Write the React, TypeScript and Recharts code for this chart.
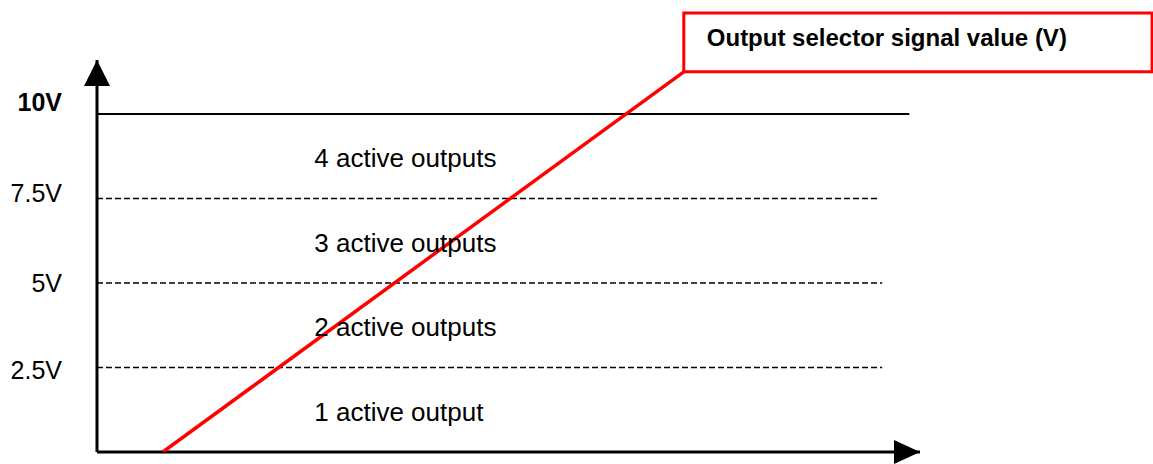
import React from 'react';
import {
  ComposedChart,
  Line,
  XAxis,
  YAxis,
  ReferenceLine,
  ReferenceArea,
  ReferenceDot,
} from 'recharts';

// ---- data ----
const yTicks = [2.5, 5, 7.5, 10];
const yTickLabels = ['2.5V', '5V', '7.5V', '10V'];

const solidLevel = 10;
const solidLevelEnd = 98.7;
const dashedLevels = [7.5, 5, 2.5];
const dashedLevelEnds = [94.8, 95.4, 95.4];

const regionLabels = ['1 active output', '2 active outputs', '3 active outputs', '4 active outputs'];
const regionMids = [1.25, 3.75, 6.25, 8.75];
const regionLabelX = 26.4;

const signalX = [8, 71.3];
const signalY = [0, 11.25];

const calloutText = 'Output selector signal value (V)';
const calloutX = [71.3, 128.2];
const calloutY = [11.25, 12.99];

const xDomain = [0, 100];
const yDomain = [0, 11.6];

// ---- styles ----
const FONT = '"Liberation Sans", Arial, Helvetica, sans-serif';
const tickShift: Record<string, number> = { '2.5': 11, '5': 8.5, '7.5': 3, '10': -3 };

const YTick = (props: any) => {
  const { x, y, payload } = props;
  const v = payload.value;
  const idx = yTicks.indexOf(v);
  const isTop = v === 10;
  return (
    <text
      x={x}
      y={y + (tickShift[String(v)] ?? 0)}
      textAnchor="end"
      fontFamily={FONT}
      fontSize={25}
      fontWeight={isTop ? 'bold' : 'normal'}
      fill="#000"
    >
      {yTickLabels[idx]}
    </text>
  );
};

const UpArrow = (props: any) => {
  const { cx, cy } = props;
  return <path d={`M${cx},${cy} L${cx - 13},${cy + 26} L${cx + 13},${cy + 26} Z`} fill="#000" />;
};

const RightArrow = (props: any) => {
  const { cx, cy } = props;
  return <path d={`M${cx},${cy} L${cx - 26},${cy - 12} L${cx - 26},${cy + 12} Z`} fill="#000" />;
};

const CalloutLabel = (props: any) => {
  const vb = props.viewBox || {};
  return (
    <text
      x={vb.x + 23}
      y={vb.y + 33}
      fontFamily={FONT}
      fontSize={24}
      fontWeight="bold"
      fill="#000"
    >
      {calloutText}
    </text>
  );
};

const makeRegionShape = (label: string) => (props: any) => {
  const { cx, cy } = props;
  return (
    <text x={cx} y={cy + 11} fontFamily={FONT} fontSize={26} fill="#000" textAnchor="start">
      {label}
    </text>
  );
};

export default function App() {
  const data = signalX.map((x, i) => ({ x, y: signalY[i] }));
  return (
    <div style={{ position: 'absolute', left: 0, top: 0, width: 1153, height: 464, background: '#fff' }}>
      <ComposedChart
        width={1153}
        height={464}
        data={data}
        margin={{ top: 60, right: 233, bottom: 12, left: 0 }}
      >
        <XAxis type="number" dataKey="x" domain={xDomain} hide allowDataOverflow />
        <YAxis
          type="number"
          domain={yDomain}
          ticks={yTicks}
          width={97}
          allowDataOverflow
          axisLine={{ stroke: '#000', strokeWidth: 3 }}
          tickLine={false}
          tickSize={0}
          tickMargin={35}
          tick={<YTick />}
        />
        <ReferenceLine
          segment={[
            { x: xDomain[0], y: solidLevel },
            { x: solidLevelEnd, y: solidLevel },
          ]}
          stroke="#000"
          strokeWidth={2}
        />
        {dashedLevels.map((lv, i) => (
          <ReferenceLine
            key={`d${lv}`}
            segment={[
              { x: xDomain[0], y: lv },
              { x: dashedLevelEnds[i], y: lv },
            ]}
            stroke="#000"
            strokeWidth={1.5}
            strokeDasharray="6 3"
          />
        ))}
        <ReferenceLine y={0} stroke="#000" strokeWidth={3} />
        {regionLabels.map((lab, i) => (
          <ReferenceDot
            key={lab}
            x={regionLabelX}
            y={regionMids[i]}
            r={0}
            ifOverflow="visible"
            shape={makeRegionShape(lab)}
          />
        ))}
        <ReferenceDot x={xDomain[0]} y={yDomain[1]} r={0} ifOverflow="visible" shape={<UpArrow />} />
        <ReferenceDot x={xDomain[1]} y={yDomain[0]} r={0} ifOverflow="visible" shape={<RightArrow />} />
        <Line
          type="linear"
          dataKey="y"
          stroke="#ff0000"
          strokeWidth={3.5}
          dot={false}
          activeDot={false}
          isAnimationActive={false}
        />
        <ReferenceArea
          x1={calloutX[0]}
          x2={calloutX[1]}
          y1={calloutY[0]}
          y2={calloutY[1]}
          ifOverflow="visible"
          fill="#fff"
          fillOpacity={1}
          stroke="#ff0000"
          strokeWidth={3}
          label={<CalloutLabel />}
        />
      </ComposedChart>
    </div>
  );
}
